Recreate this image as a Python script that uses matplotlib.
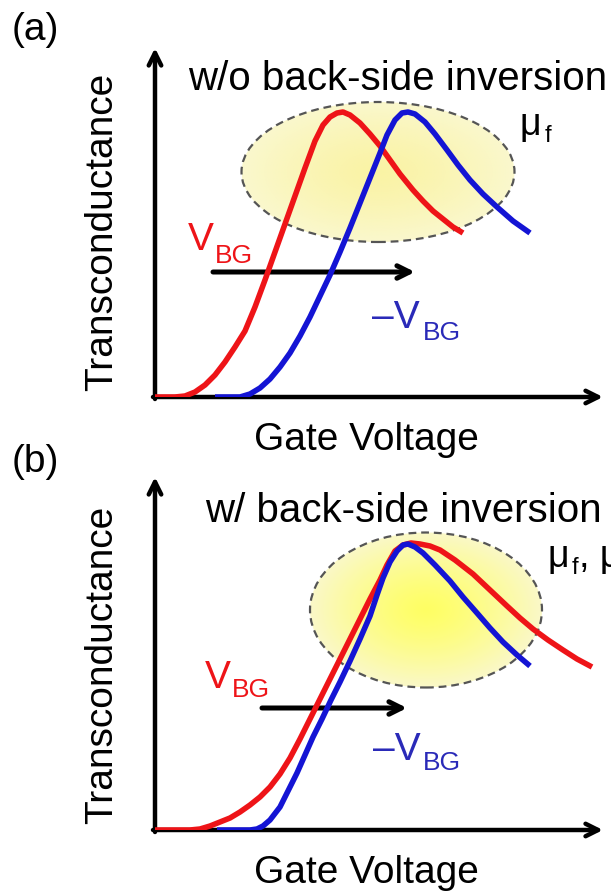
import numpy as np
import matplotlib.pyplot as plt
from matplotlib.patches import Ellipse

plt.rcParams['font.family'] = ['Liberation Sans', 'DejaVu Sans']

# gate voltage / transconductance pairs (arbitrary units) read per curve
# (a) w/o back-side inversion
vg_a_pos = [0, 20, 30, 40, 50, 60, 70, 80, 90, 100, 110, 120, 130, 140, 150, 160, 168, 175,
            182, 188, 195, 205, 215, 225, 235, 245, 258, 268, 278, 288, 298, 308]
gm_a_pos = [0, 0, 1, 5, 12, 22, 35, 50, 66, 90, 117, 145, 173, 201, 229, 256, 272, 280,
            284, 285, 282, 274, 263, 251, 237, 223, 207, 196, 186, 178, 170, 164]
vg_a_neg = [60, 85, 95, 105, 115, 125, 135, 145, 155, 165, 175, 185, 195, 205, 215, 225, 232,
            240, 247, 253, 260, 270, 280, 292, 303, 315, 328, 342, 358, 375]
gm_a_neg = [0, 0, 3, 9, 18, 30, 44, 61, 80, 101, 122, 145, 169, 194, 219, 244, 262,
            277, 284, 285, 283, 275, 263, 247, 232, 217, 203, 190, 176, 164]

# (b) w/ back-side inversion
vg_b_pos = [0, 35, 45, 55, 65, 75, 85, 95, 105, 115, 125, 135, 145, 155, 165, 178, 190, 205,
            215, 225, 232, 240, 248, 256, 265, 275, 285, 300, 318, 335, 352, 365, 378, 393,
            408, 422, 437]
gm_b_pos = [0, 0, 1, 4, 8, 12, 18, 25, 33, 43, 56, 72, 91, 111, 131, 157, 181, 211,
            231, 250, 265, 279, 285, 287, 286, 284, 280, 270, 256, 240, 224, 212, 201, 190,
            180, 171, 163]
vg_b_neg = [62, 95, 102, 108, 115, 125, 133, 142, 150, 158, 167, 176, 185, 195, 205, 215, 222,
            228, 235, 242, 248, 253, 260, 268, 280, 295, 308, 322, 335, 348, 362, 375]
gm_b_neg = [0, 0, 1, 4, 10, 23, 39, 57, 75, 93, 111, 130, 148, 169, 191, 214, 235,
            252, 268, 279, 285, 286, 283, 277, 265, 249, 233, 217, 202, 188, 175, 164]

RED = '#ee1418'
BLUE = '#1414d4'
LW = 4.0
W, H = 611, 893

fig = plt.figure(figsize=(W / 100, H / 100), dpi=100)
canvas = fig.add_axes([0, 0, 1, 1])
canvas.set_xlim(0, W)
canvas.set_ylim(H, 0)
canvas.axis('off')


def make_panel(ox, oy, top):
    ax = fig.add_axes([ox / W, (H - oy) / H, (W - ox) / W, (oy - top) / H])
    ax.axis('off')
    return ax, (W - ox, oy - top)


def glow(ax, cx, cy, w, h, inner, outer):
    n = 200
    xs = np.linspace(-1, 1, n)
    X, Y = np.meshgrid(xs, xs)
    r = np.clip(np.hypot(X, Y), 0, 1) ** 1.3
    inner = np.array(inner) / 255
    outer = np.array(outer) / 255
    img = (1 - r)[..., None] * inner + r[..., None] * outer
    im = ax.imshow(img, extent=[cx - w / 2, cx + w / 2, cy - h / 2, cy + h / 2],
                   origin='lower', aspect='auto', zorder=1, interpolation='bilinear')
    clip = Ellipse((cx, cy), w, h, facecolor='none', edgecolor='none')
    ax.add_patch(clip)
    im.set_clip_path(clip)
    ax.add_patch(Ellipse((cx, cy), w, h, fill=False, edgecolor='#555555',
                         lw=1.6, ls=(0, (3.5, 2.2)), zorder=2))


def axis_arrows(ox, oy, top):
    head = dict(arrowstyle='->,head_length=0.9,head_width=0.45',
                lw=3.2, color='black', shrinkA=0, shrinkB=0)
    canvas.annotate('', xy=(ox, top), xytext=(ox, oy + 2), arrowprops=head)
    canvas.annotate('', xy=(603, oy), xytext=(ox - 2, oy), arrowprops=head)


def shift_arrow(x0, x1, y):
    canvas.annotate('', xy=(x1, y), xytext=(x0, y),
                    arrowprops=dict(arrowstyle='->,head_length=0.9,head_width=0.45',
                                    lw=3.6, color='black', shrinkA=0, shrinkB=0), zorder=2)


def vbg_labels(vx, vy, bx, by, nx, ny, mx, my):
    canvas.text(vx, vy, 'V', color=RED, fontsize=28, va='baseline')
    canvas.text(bx, by, 'BG', color=RED, fontsize=19, va='baseline')
    canvas.text(nx, ny, '\u2013V', color='#2a2ab8', fontsize=28, va='baseline')
    canvas.text(mx, my, 'BG', color='#2a2ab8', fontsize=19, va='baseline')


def curves(ax, lim, xr, yr, xb, yb):
    for xs, ys, c in ((xr, yr, RED), (xb, yb, BLUE)):
        ax.plot(xs, ys, color=c, lw=LW, solid_capstyle='butt',
                solid_joinstyle='round', zorder=4)
    ax.set_xlim(0, lim[0])
    ax.set_ylim(0, lim[1])


# ---- panel (a)
ax_a, lim_a = make_panel(155, 397, 40)
glow(ax_a, 223, 225, 273, 140, (250, 243, 165), (250, 248, 205))
curves(ax_a, lim_a, vg_a_pos, gm_a_pos, vg_a_neg, gm_a_neg)
axis_arrows(155, 397, 48)
shift_arrow(213, 415, 272)

canvas.text(12, 30, '(a)', fontsize=28, va='center')
canvas.text(188, 90, 'w/o back-side inversion', fontsize=29, va='baseline')
canvas.text(520, 135, '\u03bc', fontsize=27, va='baseline')
canvas.text(545, 142, 'f', fontsize=17, va='baseline')
canvas.text(102, 232, 'Transconductance', fontsize=28, rotation=90, ha='center', va='center')
canvas.text(366, 450, 'Gate Voltage', fontsize=28, ha='center', va='baseline')
vbg_labels(188, 250, 215, 263, 372, 328, 423, 340)

# ---- panel (b)
ax_b, lim_b = make_panel(155, 830, 470)
glow(ax_b, 271, 220, 232, 155, (255, 255, 100), (250, 248, 200))
curves(ax_b, lim_b, vg_b_pos, gm_b_pos, vg_b_neg, gm_b_neg)
axis_arrows(155, 830, 477)
shift_arrow(262, 407, 708)

canvas.text(12, 462, '(b)', fontsize=28, va='center')
canvas.text(205, 522, 'w/ back-side inversion', fontsize=29, va='baseline')
canvas.text(547, 567, '\u03bc', fontsize=27, va='baseline')
canvas.text(572, 574, 'f', fontsize=17, va='baseline')
canvas.text(579, 567, ', \u03bc', fontsize=27, va='baseline')
canvas.text(102, 665, 'Transconductance', fontsize=28, rotation=90, ha='center', va='center')
canvas.text(366, 883, 'Gate Voltage', fontsize=28, ha='center', va='baseline')
vbg_labels(205, 688, 232, 697, 373, 760, 423, 770)

fig.savefig('out.png', dpi=100)
